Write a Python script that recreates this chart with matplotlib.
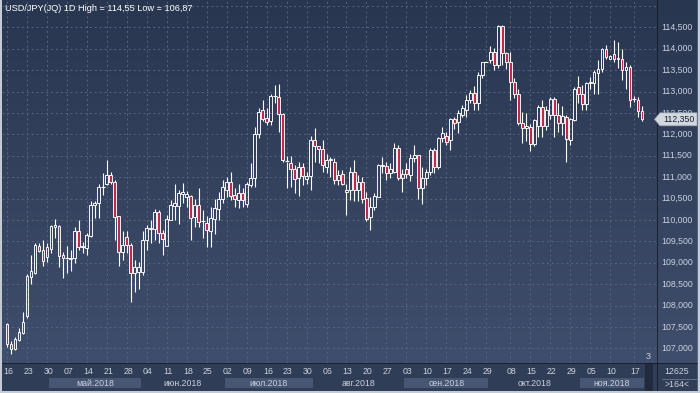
import matplotlib
matplotlib.use('Agg')
import matplotlib.pyplot as plt
import numpy as np
import pandas as pd
from matplotlib.patches import Rectangle, Polygon
from matplotlib.colors import LinearSegmentedColormap

# ---------------- data ----------------
extra_days = ['2018-09-29', '2018-11-10', '2018-11-17']
dates = pd.bdate_range('2018-04-16', '2018-11-20').append(pd.DatetimeIndex(extra_days)).sort_values()

opens = [107.56, 107.10, 106.98, 107.19, 107.35, 107.76, 108.67, 108.77, 109.40, 109.30,
         109.13, 109.33, 109.84, 109.86, 109.18, 109.09, 109.08, 109.10, 109.74, 109.37,
         109.34, 109.62, 110.34, 110.39, 110.76, 110.85, 111.05, 110.89, 110.08, 109.24,
         109.59, 109.41, 108.75, 108.79, 108.79, 109.53, 109.78, 109.79, 110.19, 109.69,
         109.39, 110.00, 110.33, 110.33, 110.60, 110.54, 110.56, 110.06, 110.35, 109.98,
         109.92, 109.75, 110.02, 110.25, 110.49, 110.71, 110.88, 110.58, 110.47, 110.62,
         110.37, 110.82, 110.97, 112.00, 112.57, 112.37, 112.30, 112.89, 112.86, 112.47,
         111.36, 111.34, 111.19, 110.97, 111.23, 110.95, 111.03, 111.87, 111.73, 111.65,
         111.24, 111.40, 111.36, 110.93, 111.07, 110.66, 110.71, 111.13, 110.71, 110.89,
         110.50, 110.06, 110.29, 110.54, 111.26, 111.26, 111.09, 111.13, 111.67, 110.97,
         111.18, 111.05, 111.44, 111.52, 110.74, 110.97, 111.13, 111.63, 111.24, 111.91,
         111.96, 111.87, 112.35, 112.29, 112.45, 112.57, 112.80, 112.96, 112.72, 113.39,
         113.68, 113.74, 113.93, 113.62, 114.53, 113.91, 113.68, 113.22, 112.93, 112.26,
         112.14, 112.16, 111.77, 112.19, 112.63, 112.19, 112.45, 112.82, 112.45, 112.26,
         112.41, 111.87, 112.33, 113.10, 112.94, 112.71, 113.21, 113.21, 113.44, 113.52,
         113.99, 113.77, 113.88, 113.76, 113.75, 113.50, 113.58, 112.82, 112.80, 112.55]
highs = [107.60, 107.16, 107.27, 107.48, 107.84, 108.73, 109.18, 109.45, 109.45, 109.53,
         109.45, 109.88, 110.01, 109.88, 109.26, 109.38, 109.30, 109.83, 110.00, 109.49,
         109.69, 110.44, 110.44, 110.85, 111.09, 111.40, 111.13, 110.93, 110.09, 109.75,
         109.73, 109.45, 109.06, 109.02, 109.73, 109.88, 110.00, 110.25, 110.23, 109.77,
         110.12, 110.47, 110.85, 110.70, 110.87, 110.68, 110.58, 110.50, 110.74, 110.23,
         110.08, 110.31, 110.49, 110.66, 110.93, 111.01, 111.11, 110.74, 110.85, 110.74,
         110.89, 111.32, 112.18, 112.61, 112.80, 112.61, 112.94, 113.15, 113.17, 112.50,
         111.49, 111.49, 111.28, 111.36, 111.34, 111.13, 111.96, 112.14, 111.73, 111.87,
         111.55, 111.48, 111.44, 111.17, 111.17, 110.85, 111.24, 111.41, 111.05, 111.01,
         110.66, 110.54, 110.64, 111.31, 111.48, 111.36, 111.32, 111.80, 111.75, 111.20,
         111.32, 111.54, 111.75, 111.52, 111.24, 111.20, 111.67, 111.67, 111.94, 112.16,
         112.06, 112.37, 112.41, 112.57, 112.68, 112.92, 113.04, 113.13, 113.46, 113.70,
         113.68, 114.06, 114.01, 114.55, 114.55, 113.93, 113.93, 113.31, 113.05, 112.51,
         112.49, 112.24, 112.35, 112.69, 112.80, 112.66, 112.86, 112.88, 112.72, 112.65,
         112.45, 112.37, 113.11, 113.36, 113.15, 113.23, 113.35, 113.50, 113.74, 114.01,
         114.09, 113.85, 114.20, 114.16, 113.99, 113.70, 113.62, 112.89, 112.88, 112.66]
lows = [107.04, 106.87, 106.96, 107.16, 107.33, 107.70, 108.50, 108.74, 109.25, 108.92,
        109.01, 109.22, 109.57, 108.91, 108.64, 108.75, 108.80, 108.99, 109.30, 109.22,
        109.18, 109.61, 110.04, 110.04, 110.58, 110.82, 110.85, 109.53, 108.93, 109.06,
        109.22, 108.09, 108.32, 108.38, 108.71, 109.30, 109.45, 109.53, 109.45, 109.18,
        109.38, 110.00, 110.00, 109.90, 110.39, 110.30, 109.53, 109.84, 109.84, 109.57,
        109.36, 109.36, 109.67, 110.00, 110.39, 110.54, 110.47, 110.31, 110.27, 110.31,
        110.31, 110.76, 110.76, 111.91, 112.30, 112.22, 112.22, 112.72, 112.06, 111.36,
        110.74, 110.78, 110.64, 110.56, 110.82, 110.85, 110.70, 111.36, 111.34, 111.13,
        111.09, 111.01, 110.85, 110.82, 110.82, 110.11, 110.46, 110.43, 110.43, 110.39,
        109.98, 109.76, 110.22, 110.53, 111.09, 110.93, 110.97, 111.09, 110.93, 110.66,
        110.97, 110.92, 111.36, 110.48, 110.37, 110.81, 111.05, 111.10, 111.20, 111.83,
        111.75, 111.63, 112.12, 112.02, 112.41, 112.41, 112.72, 112.57, 112.57, 113.31,
        113.68, 113.66, 113.50, 113.54, 113.62, 113.52, 112.80, 112.84, 112.22, 111.80,
        111.85, 111.62, 111.73, 111.93, 111.93, 112.10, 112.35, 111.93, 112.06, 111.98,
        111.36, 111.75, 112.30, 112.72, 112.57, 112.57, 113.07, 112.94, 112.94, 113.46,
        113.75, 113.75, 113.70, 113.54, 113.27, 113.07, 112.63, 112.76, 112.41, 112.30]
closes = [107.10, 106.98, 107.21, 107.37, 107.62, 108.69, 108.81, 109.41, 109.28, 109.05,
          109.36, 109.86, 109.87, 109.16, 109.10, 109.10, 109.11, 109.74, 109.37, 109.39,
          109.65, 110.35, 110.39, 110.76, 110.77, 111.05, 110.89, 110.06, 109.24, 109.41,
          109.41, 108.75, 108.89, 108.90, 109.53, 109.80, 109.80, 110.19, 109.69, 109.55,
          110.01, 110.35, 110.39, 110.62, 110.66, 110.60, 110.04, 110.35, 109.96, 109.97,
          109.76, 110.04, 110.27, 110.49, 110.78, 110.89, 110.57, 110.48, 110.64, 110.47,
          110.84, 110.99, 112.00, 112.53, 112.35, 112.29, 112.89, 112.90, 112.47, 111.41,
          111.37, 111.18, 110.95, 111.23, 111.03, 111.03, 111.87, 111.73, 111.65, 111.28,
          111.40, 111.42, 110.93, 111.05, 110.85, 110.71, 111.13, 110.70, 110.89, 110.50,
          110.02, 110.29, 110.57, 111.28, 111.28, 111.09, 111.18, 111.67, 110.97, 111.07,
          111.07, 111.44, 111.52, 110.74, 110.97, 111.13, 111.63, 111.24, 111.91, 112.02,
          111.83, 112.35, 112.27, 112.49, 112.61, 112.80, 112.96, 112.72, 113.39, 113.68,
          113.68, 113.93, 113.62, 114.53, 113.91, 113.70, 113.22, 112.93, 112.26, 112.14,
          112.19, 111.77, 112.33, 112.63, 112.19, 112.57, 112.82, 112.45, 112.26, 112.43,
          111.88, 112.35, 113.07, 112.94, 112.71, 113.21, 113.23, 113.46, 113.52, 113.99,
          113.80, 113.83, 113.75, 113.78, 113.50, 113.58, 112.80, 112.82, 112.55, 112.35]

tick_dates = ['2018-04-16', '2018-04-23', '2018-04-30', '2018-05-07', '2018-05-14', '2018-05-21',
              '2018-05-28', '2018-06-04', '2018-06-11', '2018-06-18', '2018-06-25', '2018-07-02',
              '2018-07-09', '2018-07-16', '2018-07-23', '2018-07-30', '2018-08-06', '2018-08-13',
              '2018-08-20', '2018-08-27', '2018-09-03', '2018-09-10', '2018-09-17', '2018-09-24',
              '2018-09-29', '2018-10-08', '2018-10-15', '2018-10-22', '2018-10-29', '2018-11-05',
              '2018-11-10', '2018-11-17']
month_names = {5: 'май.2018', 6: 'июн.2018', 7: 'июл.2018', 8: 'авг.2018',
               9: 'сен.2018', 10: 'окт.2018', 11: 'ноя.2018'}
title_text = 'USD/JPY(JQ) 1D High = 114,55 Low = 106,87'
price_levels = [107.0, 107.5, 108.0, 108.5, 109.0, 109.5, 110.0, 110.5, 111.0, 111.5,
                112.0, 112.5, 113.0, 113.5, 114.0, 114.5]
corner_top = '12625'
corner_bottom = '>164<'
bar_marker = '3'

# ---------------- layout ----------------
W, H = 700, 393
FONT = 'Liberation Sans'
TXT = '#c9d1dd'
fig = plt.figure(figsize=(7, 3.93), dpi=100)
fig.patch.set_facecolor('#c3cbd7')


def px_axes(x0, y0, x1, y1):
    a = fig.add_axes([x0 / W, 1 - y1 / H, (x1 - x0) / W, (y1 - y0) / H])
    a.set_axis_off()
    return a


n = len(dates)
XMIN, XMAX = -1.25, 162.75
# price scale: 114.5 at y=27.3px, 42.8 px per unit
YTOP = 114.5 + 27.3 / 42.8
YBOT = 114.5 - (363 - 27.3) / 42.8

cmap = LinearSegmentedColormap.from_list('bg', ['#293650', '#3f4e6c'])

ax = px_axes(2, 0, 657, 363)
ax.set_xlim(XMIN, XMAX)
ax.set_ylim(YBOT, YTOP)
ax.imshow(np.linspace(0, 1, 256).reshape(-1, 1), cmap=cmap, aspect='auto',
          extent=[XMIN, XMAX, YBOT, YTOP], origin='upper', zorder=0)

date_index = {d: i for i, d in enumerate(dates)}
tick_idx = [date_index[pd.Timestamp(d)] for d in tick_dates]

grid_kw = dict(color='#55647f', lw=0.7, linestyle=(0, (2, 3)), zorder=1)
for v in price_levels + [115.0]:
    ax.axhline(v, **grid_kw)
for t in tick_idx:
    ax.axvline(t, **grid_kw)

# candles
bw = 0.7
RED = '#c02a48'
for i in range(n):
    o, h, l, c = opens[i], highs[i], lows[i], closes[i]
    top, bot = max(o, c), min(o, c)
    ax.vlines(i, top, h, color='white', lw=0.8, zorder=3)
    ax.vlines(i, l, bot, color='white', lw=0.8, zorder=3)
    if top - bot < 0.012:
        ax.hlines(top, i - bw / 2 - 0.15, i + bw / 2 + 0.15, color='white', lw=0.8, zorder=4)
    else:
        ax.add_patch(Rectangle((i - bw / 2, bot), bw, top - bot,
                               facecolor=('none' if c >= o else RED),
                               edgecolor='white', lw=0.65, zorder=4))

ax.text(3 / 655 * (XMAX - XMIN) + XMIN, YTOP - 11 / 42.8, title_text, color='white',
        fontsize=6.6, family=FONT, ha='left', va='baseline', zorder=6)

# "3" marker placed right after the last bar
ax.text(n + 0.6, YBOT + 2 / 42.8, bar_marker, color=TXT, fontsize=6.5, family=FONT,
        ha='center', va='bottom', zorder=6)

# ---------------- right price axis ----------------
axr = px_axes(657, 0, 700, 363)
axr.set_xlim(657, 700)
axr.set_ylim(YBOT, YTOP)
axr.imshow(np.linspace(0, 1, 256).reshape(-1, 1), cmap=cmap, aspect='auto',
           extent=[657, 700, YBOT, YTOP], origin='upper', zorder=0)
axr.axvline(657.4, color='#141b29', lw=1.2, zorder=2)
axr.axvline(698.8, color='#c3cbd7', lw=2.5, zorder=2)
last = closes[-1]
hh = 6.5 / 42.8
for v in price_levels:
    t = axr.text(677, v, f'{v:.3f}'.replace('.', ','), color=TXT, fontsize=6.3,
                 family=FONT, ha='center', va='center', zorder=3)
    if abs(v - last) < 2 * hh:
        # partly hidden behind the last-price marker, as in the reference
        clip = Rectangle((657, last + hh), 43, YTOP - last, transform=axr.transData)
        t.set_clip_path(clip)
poly = Polygon([[654.5, last], [660, last + hh], [697, last + hh], [697, last - hh], [660, last - hh]],
               closed=True, facecolor='#d3d8e0', edgecolor='#9aa3b2', lw=0.5, zorder=5, clip_on=False)
axr.add_patch(poly)
axr.text(678.5, last, f'{last:.3f}'.replace('.', ','), color='#1a1f2a', fontsize=6.3,
         family=FONT, ha='center', va='center', zorder=6)

# ---------------- bottom date axis ----------------
axb = px_axes(2, 363, 657, 391)
axb.set_xlim(XMIN, XMAX)
axb.set_ylim(28, 0)
axb.add_patch(Rectangle((XMIN, 0), XMAX - XMIN, 28, facecolor='#303d56', edgecolor='none', zorder=0))
axb.axhline(0.4, color='#141b29', lw=1.2, zorder=3)
for t, d in zip(tick_idx, tick_dates):
    axb.text(t + 0.3, 9, pd.Timestamp(d).strftime('%d'), color=TXT, fontsize=6.3,
             family=FONT, ha='center', va='center', zorder=3)
months = dates.month
light = True
for m in sorted(set(months)):
    idx = np.where(months == m)[0]
    x0, x1 = max(idx[0] - 0.5, XMIN), min(idx[-1] + 0.5, n - 0.5)
    if m in month_names:
        if light:
            axb.add_patch(Rectangle((x0, 15), x1 - x0, 9.5, facecolor='#475672',
                                    edgecolor='none', zorder=1))
        axb.text((x0 + x1) / 2, 20, month_names[m], color=TXT, fontsize=6.3,
                 family=FONT, ha='center', va='center', zorder=3)
        light = not light
# dark strip at right end
axb.add_patch(Rectangle((n - 0.3, 0), 2.1, 28, facecolor='#222b3d', edgecolor='none', zorder=2))

# ---------------- corner box ----------------
axc = px_axes(657, 363, 700, 391)
axc.set_xlim(657, 700)
axc.set_ylim(28, 0)
axc.add_patch(Rectangle((657, 0), 43, 28, facecolor='#303d56', edgecolor='none', zorder=0))
axc.axhline(0.4, color='#141b29', lw=1.2, zorder=3)
axc.axvline(657.4, color='#141b29', lw=1.2, zorder=3)
axc.axvline(698.8, color='#c3cbd7', lw=2.5, zorder=3)
axc.axhline(15.5, xmin=0.12, xmax=0.9, color='#6b7890', lw=0.6, zorder=3)
axc.text(677, 8.5, corner_top, color=TXT, fontsize=6.3, family=FONT, ha='center', va='center')
axc.text(677, 21.5, corner_bottom, color=TXT, fontsize=6.3, family=FONT, ha='center', va='center')

fig.savefig('out.png', dpi=100, facecolor=fig.get_facecolor())
